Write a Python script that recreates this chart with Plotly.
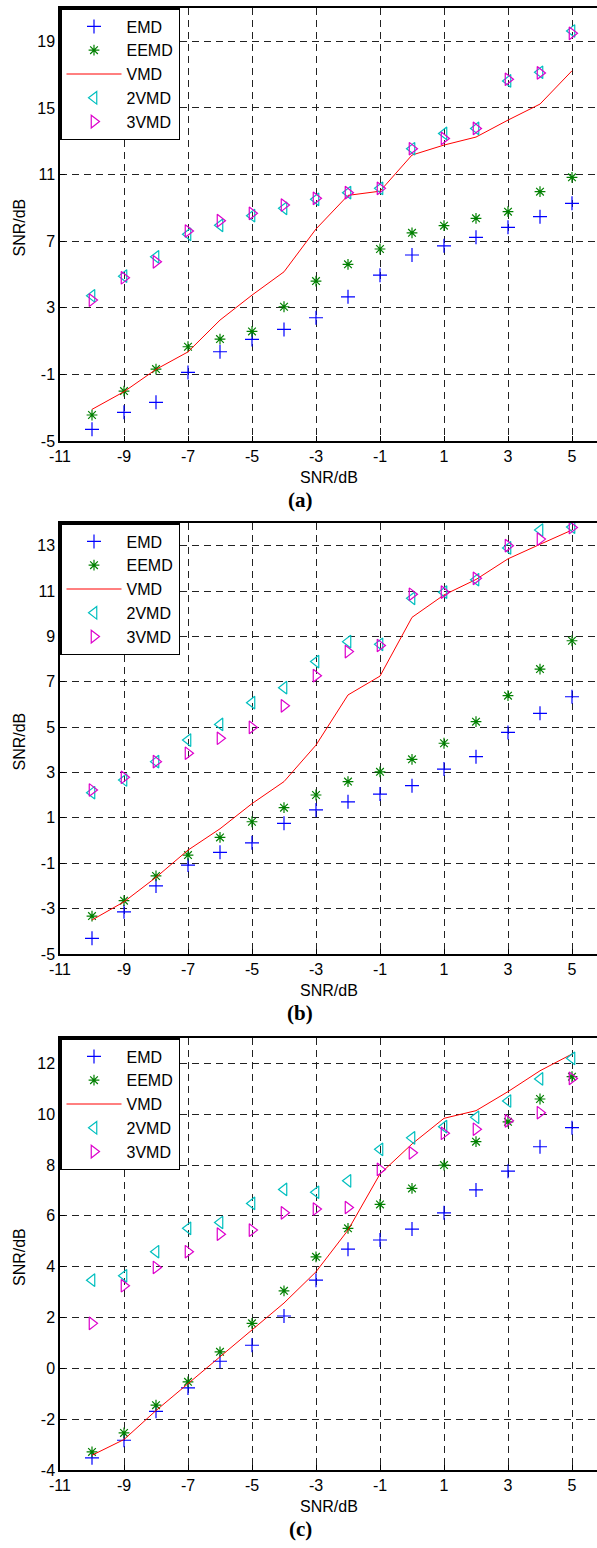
import plotly.graph_objects as go

# ---------------- data ----------------
snr_in = [-10, -9, -8, -7, -6, -5, -4, -3, -2, -1, 0, 1, 2, 3, 4, 5]
series_names = ["EMD", "EEMD", "VMD", "2VMD", "3VMD"]
panel_labels = ["(a)", "(b)", "(c)"]
x_ticks = [-11, -9, -7, -5, -3, -1, 1, 3, 5]
x_ticklabels = ["-11", "-9", "-7", "-5", "-3", "-1", "1", "3", "5"]

# panel (a)
a_emd = [-4.30, -3.28, -2.68, -0.88, 0.36, 1.10, 1.70, 2.40, 3.66, 4.96, 6.17, 6.72, 7.23, 7.83, 8.47, 9.27]
a_eemd = [-3.44, -2.00, -0.68, 0.66, 1.12, 1.58, 3.06, 4.60, 5.61, 6.53, 7.50, 7.93, 8.37, 8.77, 9.97, 10.83]
a_vmd = [-3.10, -2.04, -0.70, 0.35, 2.26, 3.76, 5.16, 7.73, 9.75, 10.00, 12.17, 12.77, 13.25, 14.27, 15.23, 17.23]
a_2vmd = [3.72, 4.90, 6.06, 7.41, 7.95, 8.53, 8.97, 9.51, 9.91, 10.17, 12.55, 13.47, 13.77, 16.62, 17.14, 19.62]
a_3vmd = [3.46, 4.80, 5.76, 7.61, 8.23, 8.67, 9.17, 9.57, 9.91, 10.17, 12.55, 13.17, 13.77, 16.72, 17.10, 19.48]
a_yticks = [-5, -1, 3, 7, 11, 15, 19]
a_yticklabels = ["-5", "-1", "3", "7", "11", "15", "19"]
a_yrange = [-5, 21]

# panel (b)
b_emd = [-4.31, -3.14, -2.00, -1.08, -0.52, -0.10, 0.76, 1.35, 1.71, 2.05, 2.42, 3.15, 3.70, 4.77, 5.61, 6.34]
b_eemd = [-3.33, -2.65, -1.56, -0.64, 0.14, 0.83, 1.45, 2.01, 2.60, 3.03, 3.58, 4.29, 5.24, 6.39, 7.56, 8.81]
b_vmd = [-3.50, -2.70, -1.62, -0.42, 0.52, 1.63, 2.60, 4.21, 6.42, 7.25, 9.84, 10.83, 11.51, 12.42, 13.06, 13.69]
b_2vmd = [2.11, 2.67, 3.48, 4.43, 5.12, 6.08, 6.74, 7.89, 8.77, 8.65, 10.68, 10.95, 11.50, 12.90, 13.69, 13.82]
b_3vmd = [2.23, 2.79, 3.48, 3.85, 4.51, 4.99, 5.94, 7.27, 8.33, 8.60, 10.86, 10.95, 11.56, 13.00, 13.29, 13.80]
b_yticks = [-5, -3, -1, 1, 3, 5, 7, 9, 11, 13]
b_yticklabels = ["-5", "-3", "-1", "1", "3", "5", "7", "9", "11", "13"]
b_yrange = [-5, 14]

# panel (c)
c_emd = [-3.52, -2.83, -1.69, -0.77, 0.28, 0.91, 2.06, 3.47, 4.69, 5.05, 5.48, 6.12, 7.02, 7.76, 8.72, 9.47]
c_eemd = [-3.29, -2.54, -1.45, -0.53, 0.65, 1.77, 3.05, 4.39, 5.51, 6.45, 7.08, 8.00, 8.92, 9.70, 10.60, 11.48]
c_vmd = [-3.42, -2.80, -1.66, -0.60, 0.45, 1.50, 2.57, 3.80, 5.44, 7.65, 8.83, 9.84, 10.14, 10.89, 11.71, 12.37]
c_2vmd = [3.47, 3.64, 4.59, 5.51, 5.74, 6.49, 7.04, 6.93, 7.38, 8.62, 9.07, 9.51, 9.88, 10.52, 11.39, 12.20]
c_3vmd = [1.77, 3.25, 3.97, 4.59, 5.28, 5.44, 6.12, 6.27, 6.33, 7.83, 8.48, 9.25, 9.41, 9.74, 10.06, 11.41]
c_yticks = [-4, -2, 0, 2, 4, 6, 8, 10, 12]
c_yticklabels = ["-4", "-2", "0", "2", "4", "6", "8", "10", "12"]
c_yrange = [-4, 13]

# ---------------- layout helpers ----------------
W, H = 597, 1548
LEFT = 60
panels_px = [(8, 441), (523, 954), (1038, 1470)]  # top, bottom of plot area


def py(p):
    return 1 - p / H


def px(p):
    return p / W


FONT = "Liberation Sans, Arial, sans-serif"
C_EMD = "#0000FF"
C_EEMD = "#008000"
C_VMD = "#FF0000"
C_2VMD = "#00BFBF"
C_3VMD = "#DD00CC"

fig = go.Figure()

panels = [
    (a_emd, a_eemd, a_vmd, a_2vmd, a_3vmd, a_yticks, a_yticklabels, a_yrange),
    (b_emd, b_eemd, b_vmd, b_2vmd, b_3vmd, b_yticks, b_yticklabels, b_yrange),
    (c_emd, c_eemd, c_vmd, c_2vmd, c_3vmd, c_yticks, c_yticklabels, c_yrange),
]

x_range = [-11, -11 + (W - LEFT) / 32.0]

for i, (emd, eemd, vmd, v2, v3, yt, ytl, yr) in enumerate(panels):
    n = "" if i == 0 else str(i + 1)
    xa, ya = "x" + n, "y" + n
    leg = "legend" + n
    fig.add_trace(go.Scatter(x=snr_in, y=emd, mode="markers", name=series_names[0], xaxis=xa, yaxis=ya, legend=leg,
                             marker=dict(symbol="cross-thin", size=10, color=C_EMD, line=dict(color=C_EMD, width=1.2))))
    fig.add_trace(go.Scatter(x=snr_in, y=eemd, mode="markers", name=series_names[1], xaxis=xa, yaxis=ya, legend=leg,
                             marker=dict(symbol="asterisk", size=9, color=C_EEMD, line=dict(color=C_EEMD, width=1.2))))
    fig.add_trace(go.Scatter(x=snr_in, y=vmd, mode="lines", name=series_names[2], xaxis=xa, yaxis=ya, legend=leg,
                             line=dict(color=C_VMD, width=1)))
    fig.add_trace(go.Scatter(x=snr_in, y=v2, mode="markers", name=series_names[3], xaxis=xa, yaxis=ya, legend=leg,
                             marker=dict(symbol="triangle-left-open", size=11, color=C_2VMD, line=dict(color=C_2VMD, width=1.2))))
    fig.add_trace(go.Scatter(x=snr_in, y=v3, mode="markers", name=series_names[4], xaxis=xa, yaxis=ya, legend=leg,
                             marker=dict(symbol="triangle-right-open", size=11, color=C_3VMD, line=dict(color=C_3VMD, width=1.2))))

    top, bot = panels_px[i]
    axis_common = dict(showgrid=True, gridcolor="#222222", gridwidth=1, griddash="7px,5px",
                       showline=True, linecolor="black", linewidth=1.5, ticks="inside", ticklen=5,
                       tickcolor="black", zeroline=False, automargin=False,
                       tickfont=dict(family=FONT, size=16, color="black"))
    fig.update_layout(**{
        "xaxis" + n: dict(axis_common, domain=[px(LEFT), 1], range=x_range, tickvals=x_ticks,
                          ticktext=x_ticklabels, anchor=ya, mirror=True),
        "yaxis" + n: dict(axis_common, domain=[py(bot), py(top)], range=yr, tickvals=yt,
                          ticktext=ytl, anchor=xa, mirror=False),
        leg: dict(x=px(LEFT), y=py(top), xanchor="left", yanchor="top", bgcolor="white",
                  bordercolor="black", borderwidth=1.5, itemwidth=55,
                  font=dict(family=FONT, size=16, color="black"), tracegroupgap=0),
    })

    # axis titles and panel label
    fig.add_annotation(text="SNR/dB", xref="paper", yref="paper", x=px((LEFT + W) / 2), y=py(bot + 36),
                       xanchor="center", yanchor="middle",
                       showarrow=False, font=dict(family=FONT, size=16, color="black"))
    fig.add_annotation(text="SNR/dB", xref="paper", yref="paper", x=px(19), y=py((top + bot) / 2 + 3),
                       xanchor="center", yanchor="middle",
                       textangle=-90, showarrow=False, font=dict(family=FONT, size=16, color="black"))
    fig.add_annotation(text="<b>" + panel_labels[i] + "</b>", xref="paper", yref="paper", x=px(300), y=py(bot + 59),
                       xanchor="center", yanchor="middle",
                       showarrow=False, font=dict(family="Liberation Serif, serif", size=21, color="black"))

fig.update_layout(width=W, height=H, margin=dict(l=0, r=0, t=0, b=0), paper_bgcolor="white",
                  plot_bgcolor="white", showlegend=True)

fig.write_html("out.html")
